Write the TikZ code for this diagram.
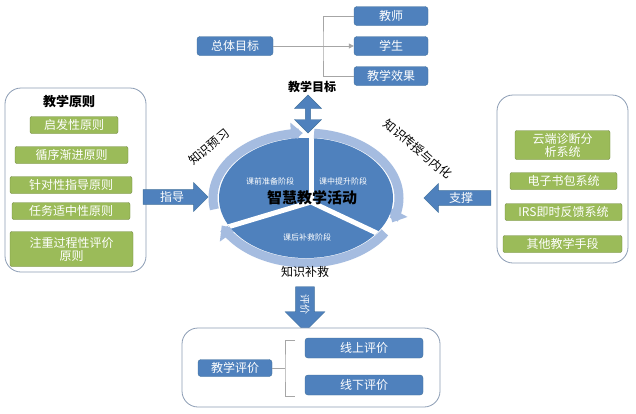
\documentclass[tikz,border=0pt]{standalone}
\usepackage{fontspec}
\setmainfont{Noto Sans CJK SC}
\usetikzlibrary{arrows.meta,shapes.arrows,positioning}
\definecolor{boxblue}{HTML}{4F81BD}
\definecolor{boxedge}{HTML}{41719C}
\definecolor{ringblue}{HTML}{A5BCE0}
\definecolor{leaf}{HTML}{9BBB59}
\definecolor{leafedge}{HTML}{71893F}
\definecolor{paneledge}{HTML}{8C9DB5}
\tikzset{
  bluebox/.style={draw=boxedge,fill=boxblue,rounded corners=3,text=white,inner sep=0,minimum height=19,font=\fontsize{12}{14}\selectfont},
  greenbox/.style={draw=leafedge,fill=leaf,rounded corners=2,text=white,inner sep=0,minimum height=17,font=\fontsize{12}{13}\selectfont},
  panel/.style={draw=paneledge,fill=white,rounded corners=16,line width=0.8},
  blockarrow/.style={draw=boxedge,fill=boxblue,text=white,inner sep=1.5,font=\fontsize{12}{14}\selectfont},
  ringarc/.style={ringblue,line width=9,-{Triangle[width=21,length=12]}},
  thinline/.style={draw=gray!70,line width=0.8},
  stage/.style={text=white,font=\fontsize{8}{9}\selectfont},
  caption/.style={font=\fontsize{12}{14}\selectfont}
}
\begin{document}
\begin{tikzpicture}[x=1pt,y=-1pt]
\useasboundingbox[fill=white](0,0)rectangle(636,413);
%goals
\node[bluebox,minimum width=76](total)at(235,46){总体目标};
\node[bluebox,minimum width=74](teacher)at(391,16){教师};
\node[bluebox,minimum width=74](student)at(391,46){学生};
\node[bluebox,minimum width=74](effect)at(391,76){教学效果};
\coordinate(fork)at(323,46);
\draw[thinline,-{Triangle[width=5,length=5]}](total)--(student);
\draw[thinline](teacher.west)-|(fork)|-(effect.west);
\node[caption,font=\bfseries\fontsize{12}{14}\selectfont](goal)at(312,87){教学目标};
\node[double arrow,blockarrow,rotate=90,minimum height=38,minimum width=27,double arrow head extend=7](link)at(308,114){};
%activity
\draw[ringarc]plot[domain=170:268,samples=40]({306+93*cos(\x)},{198+65*sin(\x)});
\draw[ringarc]plot[domain=275:382,samples=40]({306+93*cos(\x)},{198+65*sin(\x)});
\draw[ringarc]plot[domain=32:155,samples=40]({306+93*cos(\x)},{198+65*sin(\x)});
\fill[boxblue](306,198)ellipse[x radius=87,y radius=60];
\begin{scope}
\clip(306,198)ellipse[x radius=87,y radius=60];
\coordinate(hub)at(311,202);
\draw[white,line width=5](hub)--(311,120);
\draw[white,line width=5](hub)--(211,232);
\draw[white,line width=5](hub)--(402,245);
\end{scope}
\node[stage](pre)at(270,181){课前准备阶段};
\node[stage](mid)at(343,181){课中提升阶段};
\node[stage](post)at(307,237){课后补救阶段};
\node[font=\bfseries\fontsize{15}{17}\selectfont](core)at(312,198){智慧教学活动};
\node[caption,rotate=40](preview)at(209,147){知识预习};
\node[caption,rotate=-40](teach)at(418,149){知识传授与内化};
\node[caption](remedy)at(305,272){知识补救};
%principles
\node[panel,minimum width=141,minimum height=184](rules)at(75.5,180){};
\node[font=\bfseries\fontsize{13}{15}\selectfont](rulestitle)at(69,102){教学原则};
\node[greenbox,minimum width=88](p1)at(74,125){启发性原则};
\node[greenbox,minimum width=113](p2)at(71.5,155){循序渐进原则};
\node[greenbox,minimum width=122](p3)at(71,185){针对性指导原则};
\node[greenbox,minimum width=118](p4)at(71,211){任务适中性原则};
\node[greenbox,minimum width=123,minimum height=35,align=center](p5)at(71.5,249){注重过程性评价\\原则};
\node[single arrow,blockarrow,minimum height=65,minimum width=29,single arrow head extend=7](guide)at(172,197){指导};
%tools
\node[panel,minimum width=131,minimum height=168](tools)at(562.5,179){};
\node[greenbox,minimum width=95,minimum height=29,align=center](t1)at(562.5,145){云端诊断分\\析系统};
\node[greenbox,minimum width=107](t2)at(563.5,181){电子书包系统};
\node[greenbox,minimum width=117](t3)at(563.5,212){IRS即时反馈系统};
\node[greenbox,minimum width=119](t4)at(562.5,244){其他教学手段};
\node[single arrow,blockarrow,shape border rotate=180,minimum height=67,minimum width=29,single arrow head extend=7](support)at(461,198){支撑};
%evaluation
\node[single arrow,blockarrow,rotate=-90,inner sep=4,minimum height=45,minimum width=40,single arrow head extend=10,font=\fontsize{10}{11}\selectfont](check)at(305,304.5){评价};
\node[panel,minimum width=258,minimum height=79](review)at(311,367.5){};
\node[bluebox,minimum width=74,minimum height=17](evaluate)at(235,368){教学评价};
\node[bluebox,minimum width=118,minimum height=20](online)at(364,348){线上评价};
\node[bluebox,minimum width=118,minimum height=20](offline)at(364,385){线下评价};
\coordinate(knot)at(285,368);
\coordinate(braceT)at(295,340);
\coordinate(braceB)at(295,396);
\draw[thinline](evaluate.east)--(knot);
\draw[thinline](braceT)-|(knot)|-(braceB);
\end{tikzpicture}
\end{document}
